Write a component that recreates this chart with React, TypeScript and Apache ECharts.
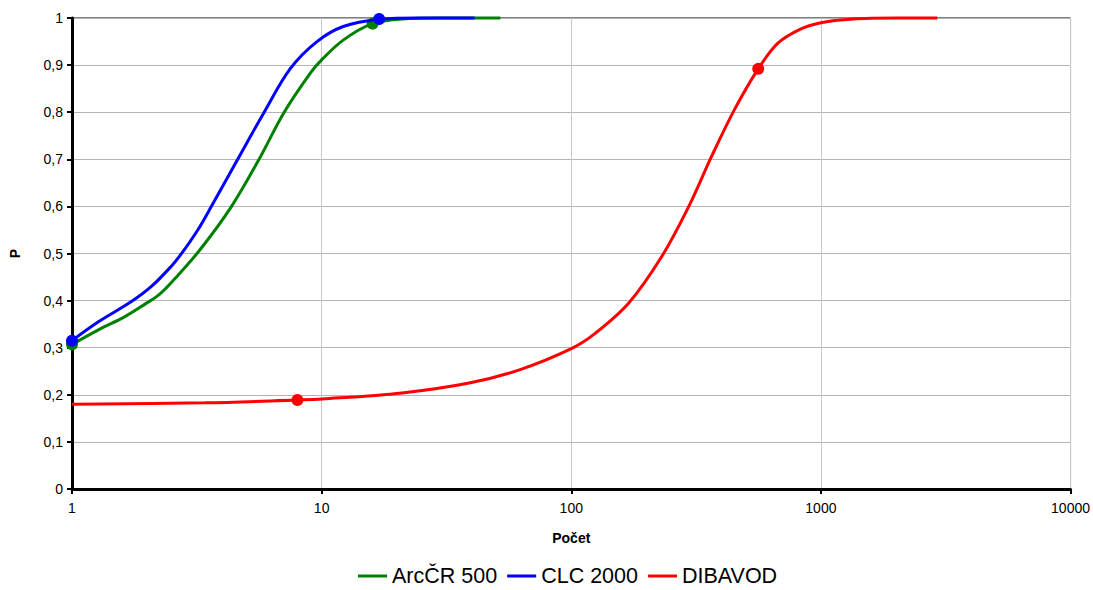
import React, { useEffect, useRef } from "react";
import * as echarts from "echarts";

const seriesNames = ["ArcČR 500", "CLC 2000", "DIBAVOD"];
const seriesColors = ["#008000", "#0000ff", "#ff0000"];

const arcX = [1, 1.276, 1.63, 1.954, 2.24, 2.65, 3.28, 4.33, 5.6, 7.06, 9.01, 10, 12.2, 15.8, 21, 30, 52];
const arcY = [0.307, 0.338, 0.366, 0.392, 0.413, 0.453, 0.51, 0.598, 0.699, 0.799, 0.883, 0.911, 0.953, 0.987, 0.998, 1, 1];
const arcMarkX = [1, 16];
const arcMarkY = [0.307, 0.988];

const clcX = [1, 1.276, 1.73, 2.08, 2.49, 2.73, 3.19, 3.6, 4.6, 5.87, 7.5, 9.58, 12.2, 16.9, 25, 41];
const clcY = [0.315, 0.355, 0.398, 0.43, 0.472, 0.498, 0.55, 0.598, 0.699, 0.799, 0.893, 0.95, 0.982, 0.997, 1, 1];
const clcMarkX = [1, 17];
const clcMarkY = [0.315, 0.998];

const dibX = [1, 3.4, 8, 10, 21, 39, 62, 100, 125, 170, 230, 295, 364, 450, 561, 674, 832, 1000, 1200, 1600, 2925];
const dibY = [0.18, 0.183, 0.189, 0.191, 0.204, 0.225, 0.253, 0.298, 0.331, 0.395, 0.493, 0.599, 0.705, 0.805, 0.892, 0.947, 0.977, 0.99, 0.996, 0.9995, 1];
const dibMarkX = [8, 561];
const dibMarkY = [0.189, 0.892];

const xName = "Počet";
const yName = "P";

const zip = (xs: number[], ys: number[]) => xs.map((x, i) => [x, ys[i]]);

export default function App() {
  const ref = useRef<HTMLDivElement>(null);
  useEffect(() => {
    document.body.style.margin = "0";
    const chart = echarts.init(ref.current!, null, { renderer: "svg" });
    const font = "Liberation Sans";
    const lines = [
      [arcX, arcY],
      [clcX, clcY],
      [dibX, dibY],
    ];
    const marks = [
      [arcMarkX, arcMarkY],
      [clcMarkX, clcMarkY],
      [dibMarkX, dibMarkY],
    ];
    const series: any[] = [];
    lines.forEach((l, i) => {
      series.push({
        name: seriesNames[i],
        type: "line",
        data: zip(l[0], l[1]),
        smooth: 0.35,
        showSymbol: false,
        symbol: "none",
        lineStyle: { color: seriesColors[i], width: 3 },
        itemStyle: { color: seriesColors[i] },
        clip: false,
        z: 3 + i,
      });
    });
    marks.forEach((m, i) => {
      series.push({
        name: seriesNames[i] + "_m",
        type: "scatter",
        data: zip(m[0], m[1]),
        symbol: "circle",
        symbolSize: 12,
        itemStyle: { color: seriesColors[i], opacity: 1 },
        clip: false,
        z: 3 + i,
      });
    });
    chart.setOption({
      animation: false,
      textStyle: { fontFamily: font },
      grid: {
        left: 67,
        right: 22,
        top: 18,
        bottom: 101,
        show: true,
        borderColor: "#000",
        borderWidth: 1,
      },
      legend: {
        data: seriesNames.map((n, i) => ({ name: n, icon: "rect", itemStyle: { color: seriesColors[i] } })),
        left: 358,
        top: 565,
        padding: 0,
        itemWidth: 29,
        itemHeight: 3,
        itemGap: 10,
        textStyle: { fontSize: 21.5, color: "#000", fontFamily: font },
      },
      xAxis: {
        type: "log",
        logBase: 10,
        min: 1,
        max: 10000,
        name: xName,
        nameLocation: "middle",
        nameGap: 42,
        nameTextStyle: { fontWeight: "bold", fontSize: 14, color: "#000", fontFamily: font },
        axisLine: { show: true, lineStyle: { color: "#000", width: 3 } },
        axisTick: { show: true, length: 5, lineStyle: { color: "#000", width: 2 } },
        axisLabel: {
          color: "#000",
          fontSize: 14,
          margin: 12,
          fontFamily: font,
          formatter: (v: number) => String(Math.round(v)),
        },
        splitLine: { show: true, lineStyle: { color: "#c8c8c8", width: 1 } },
        minorTick: { show: false },
      },
      yAxis: {
        type: "value",
        min: 0,
        max: 1,
        interval: 0.1,
        name: yName,
        nameLocation: "middle",
        nameGap: 50,
        nameTextStyle: { fontWeight: "bold", fontSize: 14, color: "#000", fontFamily: font },
        axisLine: { show: true, lineStyle: { color: "#000", width: 3 } },
        axisTick: { show: true, length: 5, lineStyle: { color: "#000", width: 2 } },
        axisLabel: {
          color: "#000",
          fontSize: 14,
          margin: 9,
          fontFamily: font,
          formatter: (v: number) =>
            v === 0 ? "0" : Math.abs(v - 1) < 1e-9 ? "1" : v.toFixed(1).replace(".", ","),
        },
        splitLine: { show: true, lineStyle: { color: "#b4b4b4", width: 1 } },
      },
      series,
    });
    return () => chart.dispose();
  }, []);
  return <div ref={ref} style={{ width: 1093, height: 590 }} />;
}
